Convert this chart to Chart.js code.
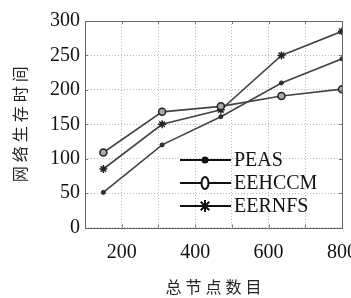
<!DOCTYPE html>
<html>
<head>
<meta charset="utf-8">
<script src="https://cdn.jsdelivr.net/npm/chart.js@4/dist/chart.umd.min.js"></script>
<style>
  html, body { margin:0; padding:0; background:#fff; overflow:hidden; }
  #wrap { position:relative; width:370px; height:298px; }
</style>
</head>
<body>
<div id="wrap"><canvas id="c"></canvas></div>
<script>
const nodeCounts = [150, 310, 470, 635, 800];
const peas = [51, 120, 161, 210, 245];
const eehccm = [109, 168, 176, 191, 201];
const eernfs = [85, 150, 171, 250, 285];
const seriesNames = ["PEAS", "EEHCCM", "EERNFS"];
const xLabels = [200, 400, 600, 800];

const serif = "'Liberation Serif', 'Times New Roman', serif";
const cjk = "'Noto Sans CJK SC', sans-serif";
const lineCol = "#444";

function pts(ys){ return ys.map((y, i) => ({ x: nodeCounts[i], y })); }

// draws a marker like the one on the lines, used by the legend
function marker(ctx, kind, x, y){
  ctx.save();
  ctx.strokeStyle = "#111";
  ctx.fillStyle = "#111";
  if(kind === 0){
    ctx.beginPath(); ctx.arc(x, y, 3.5, 0, Math.PI*2); ctx.fill();
  } else if(kind === 1){
    ctx.lineWidth = 2;
    ctx.fillStyle = "#fff";
    ctx.beginPath(); ctx.ellipse(x, y, 3.5, 6, 0, 0, Math.PI*2); ctx.fill(); ctx.stroke();
  } else {
    ctx.lineWidth = 2;
    const r = 6;
    ctx.beginPath();
    for(let a = 0; a < 4; a++){
      const t = a * Math.PI / 4;
      ctx.moveTo(x - r*Math.sin(t), y - r*Math.cos(t));
      ctx.lineTo(x + r*Math.sin(t), y + r*Math.cos(t));
    }
    ctx.stroke();
  }
  ctx.restore();
}

const boxPlugin = {
  id: "box",
  afterDraw(chart){
    const {ctx, chartArea: a, scales} = chart;
    ctx.save();
    // inward tick marks
    ctx.strokeStyle = "#777";
    ctx.lineWidth = 1;
    ctx.beginPath();
    scales.x.ticks.forEach(t => {
      const px = Math.round(scales.x.getPixelForValue(t.value)) + 0.5;
      ctx.moveTo(px, a.bottom); ctx.lineTo(px, a.bottom - 3);
      ctx.moveTo(px, a.top); ctx.lineTo(px, a.top + 3);
    });
    scales.y.ticks.forEach(t => {
      const py = Math.round(scales.y.getPixelForValue(t.value)) + 0.5;
      ctx.moveTo(a.left, py); ctx.lineTo(a.left + 3, py);
      ctx.moveTo(a.right, py); ctx.lineTo(a.right - 3, py);
    });
    ctx.stroke();
    // box
    ctx.strokeStyle = "#666";
    ctx.lineWidth = 1;
    ctx.strokeRect(Math.round(a.left) + 0.5, Math.round(a.top) + 0.5,
                   Math.round(a.right - a.left), Math.round(a.bottom - a.top));

    // legend in the lower right of the plot
    const lx = a.left + 95, rows = [a.top + 139, a.top + 162, a.top + 185];
    ctx.font = "20px " + serif;
    ctx.textBaseline = "middle";
    ctx.fillStyle = "#111";
    seriesNames.forEach((name, i) => {
      ctx.strokeStyle = "#111";
      ctx.lineWidth = 2;
      ctx.beginPath(); ctx.moveTo(lx, rows[i]); ctx.lineTo(lx + 51, rows[i]); ctx.stroke();
      marker(ctx, i, lx + 25, rows[i]);
      ctx.fillText(name, lx + 54, rows[i] + 1);
    });
    ctx.restore();
  }
};

const ds = (label, ys, style) => Object.assign({
  label, data: pts(ys),
  borderColor: lineCol, borderWidth: 1.6,
  pointBorderColor: "#222", pointBackgroundColor: "#333",
  tension: 0
}, style);

new Chart(document.getElementById("c"), {
  type: "line",
  data: {
    datasets: [
      ds(seriesNames[0], peas, { pointStyle: "circle", pointRadius: 2, pointBorderWidth: 1 }),
      ds(seriesNames[1], eehccm, { pointStyle: "circle", pointRadius: 3.5, pointBorderWidth: 1.5, pointBackgroundColor: "#aaa" }),
      ds(seriesNames[2], eernfs, { pointStyle: "star", pointRadius: 4, pointBorderWidth: 1.5 })
    ]
  },
  options: {
    responsive: true,
    maintainAspectRatio: false,
    animation: false,
    layout: { padding: { top: 21, right: 0, left: 0, bottom: 0 } },
    plugins: { legend: { display: false }, tooltip: { enabled: false } },
    scales: {
      x: {
        type: "linear", min: 100, max: 800,
        border: { display: false, dash: [1, 2] },
        grid: { color: "#bbb", drawTicks: false },
        ticks: {
          stepSize: 100, padding: 13, color: "#111", maxRotation: 0, autoSkip: false,
          font: { family: serif, size: 20 },
          callback: v => xLabels.includes(v) ? String(v) : ""
        },
        title: { display: true, text: "总\u2005节\u2005点\u2005数\u2005目", color: "#222",
                 font: { family: cjk, size: 16 }, padding: { top: 4, bottom: 1 } },
        afterFit: s => { s.height = 70.5; }
      },
      y: {
        min: 0, max: 300,
        border: { display: false, dash: [1, 2] },
        grid: { color: "#bbb", drawTicks: false },
        ticks: { stepSize: 50, padding: 5, color: "#111", font: { family: serif, size: 20 } },
        title: { display: true, text: "网\u2005络\u2005生\u2005存\u2005时\u2005间", color: "#222",
                 font: { family: cjk, size: 16 }, padding: { top: 10, bottom: 0 } },
        afterFit: s => { s.width = 85; }
      }
    }
  },
  plugins: [boxPlugin]
});
</script>
</body>
</html>
